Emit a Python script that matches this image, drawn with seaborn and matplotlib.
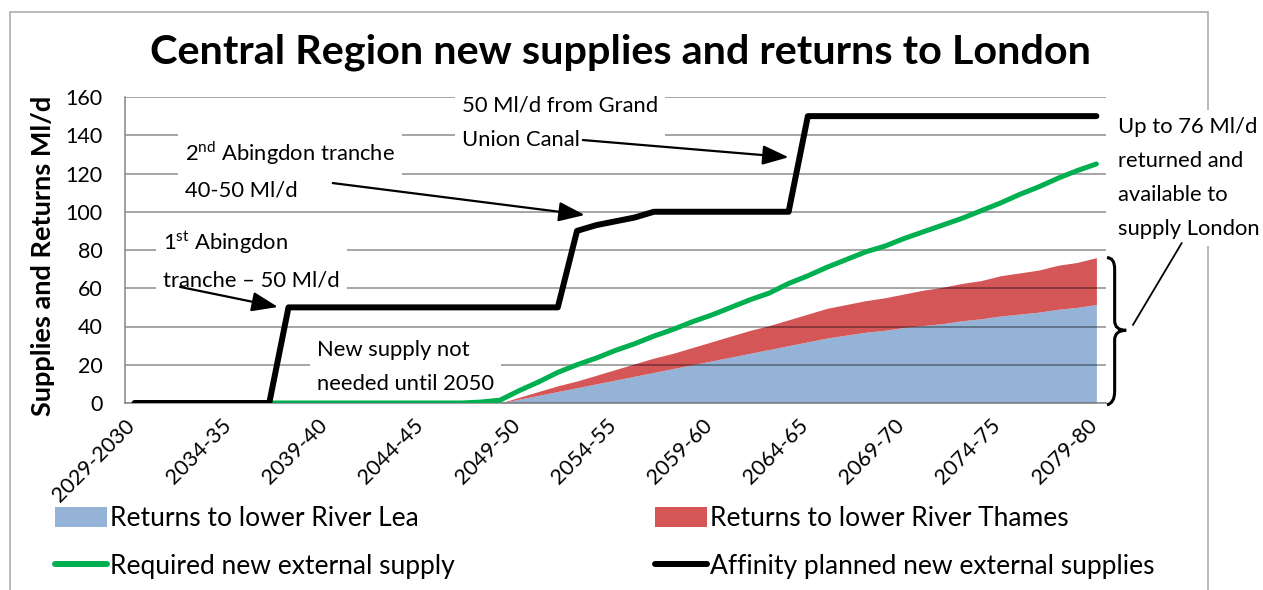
import numpy as np
import pandas as pd
import matplotlib.pyplot as plt
import seaborn as sns
from matplotlib.patches import Patch, Rectangle, PathPatch
from matplotlib.lines import Line2D
from matplotlib.path import Path

# categories (one per year) and the labels shown on the axis
years = [f"{y}-{str(y + 1)[-2:]}" for y in range(2029, 2080)]
tick_labels = ["2029-2030", "2034-35", "2039-40", "2044-45", "2049-50", "2054-55",
               "2059-60", "2064-65", "2069-70", "2074-75", "2079-80"]

# Ml/d
lea = [0, 0, 0, 0, 0, 0, 0, 0, 0, 0,
       0, 0, 0, 0, 0, 0, 0, 0, 0, 0,
       2, 4, 6, 8, 10, 12, 14, 16, 18, 20,
       22, 24, 26, 28, 30, 32, 34, 35.5, 37, 38,
       39.5, 40.5, 41.5, 43, 44, 45.5, 46.5, 47.5, 49, 50,
       51.5]
thames = [0, 0, 0, 0, 0, 0, 0, 0, 0, 0,
          0, 0, 0, 0, 0, 0, 0, 0, 0, 0,
          1, 2, 3, 3.5, 4.5, 5.5, 6.5, 7.5, 8, 9,
          10, 11, 12, 12.5, 13.5, 14.5, 15.5, 16, 16.5, 17,
          17.5, 18.5, 19, 19.5, 20, 21, 21.5, 22, 23, 23.5,
          24.5]
required = [0, 0, 0, 0, 0, 0, 0, 0, 0, 0,
            0, 0, 0, 0, 0, 0, 0, 0, 0.5, 1.5,
            6.5, 11, 16, 20, 23.5, 27.5, 31, 35, 38.5, 42.5,
            46, 50, 54, 57.5, 62.5, 66.5, 71, 75, 79, 82,
            86, 89.5, 93, 96.5, 100.5, 104.5, 109, 113, 117.5, 121.5,
            125]
planned = [0, 0, 0, 0, 0, 0, 0, 0, 50, 50,
           50, 50, 50, 50, 50, 50, 50, 50, 50, 50,
           50, 50, 50, 90, 93, 95, 97, 100, 100, 100,
           100, 100, 100, 100, 100, 150, 150, 150, 150, 150,
           150, 150, 150, 150, 150, 150, 150, 150, 150, 150,
           150]

df = pd.DataFrame({"year": years, "lea": lea, "thames": thames,
                   "required": required, "planned": planned})
df["pos"] = np.arange(len(df))
df["total"] = df["lea"] + df["thames"]

c_lea = "#95B3D7"
c_thames = "#D45657"
c_green = "#00B050"
c_grey = "#868686"

sns.set_theme(style="white")
plt.rcParams["font.family"] = ["Lato", "DejaVu Sans"]
plt.rcParams["mathtext.fontset"] = "custom"
plt.rcParams["mathtext.rm"] = "Lato"
plt.rcParams["text.color"] = "black"

W, H = 1263, 590
fig = plt.figure(figsize=(W / 100, H / 100), dpi=100)
ax = fig.add_axes([125 / W, 1 - 403 / H, 981 / W, 306 / H])

# stacked areas
ax.fill_between(df["pos"], 0, df["lea"], color=c_lea, lw=0, zorder=0.2)
ax.fill_between(df["pos"], df["lea"], df["total"], color=c_thames, lw=0, zorder=0.3)

sns.lineplot(data=df, x="pos", y="required", color=c_green, lw=3.6,
             solid_capstyle="round", ax=ax, zorder=3)
sns.lineplot(data=df, x="pos", y="planned", color="black", lw=4.3,
             solid_capstyle="round", ax=ax, zorder=3.1)

ax.set_xlim(-0.5, len(df) - 0.5)
ax.set_ylim(0, 160)
ax.set_yticks(range(0, 161, 20))
ax.set_xticks(np.arange(-0.5, len(df), 5))
ax.set_xticklabels(tick_labels, rotation=45, ha="right", rotation_mode="anchor")
ax.set_xlabel("")
ax.set_ylabel("")
ax.set_axisbelow(True)
ax.yaxis.grid(True, color="black", alpha=0.45, lw=1.1)
ax.xaxis.grid(False)
for s in ["top", "right"]:
    ax.spines[s].set_visible(False)
for s in ["left", "bottom"]:
    ax.spines[s].set_color(c_grey)
    ax.spines[s].set_linewidth(1.1)
ax.tick_params(axis="both", direction="out", length=5, width=1.1, color=c_grey,
               labelsize=15.5, labelcolor="black")
ax.tick_params(axis="y", pad=11)
ax.tick_params(axis="x", pad=4)

fig.text(620 / W, 1 - 52 / H, "Central Region new supplies and returns to London",
         ha="center", va="center", fontsize=29.8, fontweight="bold")
fig.text(43 / W, 1 - 256 / H, "Supplies and Returns Ml/d", rotation=90,
         ha="center", va="center", fontsize=19.5, fontweight="bold")

# chart border
fig.patches.append(Rectangle((10 / W, -0.1), 1198 / W, 1.1 - 12 / H,
                             transform=fig.transFigure, fill=False,
                             ec="#A6A6A6", lw=1.1, zorder=-1))

# text boxes sit over the gridlines but under the data lines
box = dict(facecolor="white", edgecolor="none", pad=5)
txt = dict(fontsize=15.8, ha="left", va="center", linespacing=1.88,
           bbox=box, zorder=2.5, clip_on=False)
arrow = dict(arrowstyle="-|>,head_length=0.8,head_width=0.3", color="black",
             lw=1.6, shrinkA=0, shrinkB=0, mutation_scale=20)

ax.text(17.0, 146.4, "50 Ml/d from Grand\nUnion Canal", **txt)
ax.annotate("", xy=(34.0, 128.5), xytext=(23.3, 137.5), arrowprops=arrow, zorder=7)

ax.text(2.6, 121.8, "2$^{\\mathrm{nd}}$ Abingdon tranche\n40-50 Ml/d", **txt)
ax.annotate("", xy=(23.4, 98.3), xytext=(10.3, 115), arrowprops=arrow, zorder=7)

ax.text(1.5, 74.8, "1$^{\\mathrm{st}}$ Abingdon\ntranche \u2013 50 Ml/d", **txt)
ax.annotate("", xy=(7.45, 50.2), xytext=(2.36, 60.7), arrowprops=arrow, zorder=7)

ax.text(9.5, 18.8, "New supply not\nneeded until 2050", **txt)

ax.text(51.1, 117.6, "Up to 76 Ml/d\nreturned and\navailable to\nsupply London", **txt)
ax.plot([54.44, 51.9], [83.7, 40.8], color="black", lw=1.3, clip_on=False, zorder=7)

# brace round the returns at the last year
top = df["total"].iloc[-1]
mid = top / 2
x0, xv, xt = len(df) - 0.45, len(df) - 0.05, len(df) + 0.55
verts = [(x0, top), (xv, top), (xv, top - 6), (xv, mid + 5), (xv, mid), (xt, mid),
         (xv, mid), (xv, mid - 5), (xv, 6), (xv, 0), (x0, -1)]
codes = [Path.MOVETO, Path.CURVE3, Path.CURVE3, Path.LINETO, Path.CURVE3, Path.CURVE3,
         Path.CURVE3, Path.CURVE3, Path.LINETO, Path.CURVE3, Path.CURVE3]
ax.add_patch(PathPatch(Path(verts, codes), fill=False, lw=2.2, ec="black",
                       clip_on=False, zorder=7))

# legend, one per column
h_lea = Patch(facecolor=c_lea, edgecolor="none")
h_thames = Patch(facecolor=c_thames, edgecolor="none")
h_green = Line2D([], [], color=c_green, lw=4.3, solid_capstyle="round")
h_black = Line2D([], [], color="black", lw=4.3, solid_capstyle="round")
leg_kw = dict(loc="center left", frameon=False, fontsize=19, handlelength=1.97,
              handleheight=0.83, handletextpad=0.1, labelspacing=0.85,
              borderpad=0, borderaxespad=0)
fig.legend([h_lea, h_green], ["Returns to lower River Lea", "Required new external supply"],
           bbox_to_anchor=(55 / W, 1 - 542.5 / H), **leg_kw)
fig.legend([h_thames, h_black],
           ["Returns to lower River Thames", "Affinity planned new external supplies"],
           bbox_to_anchor=(655 / W, 1 - 542.5 / H), **leg_kw)

fig.savefig("out.png", dpi=100)
